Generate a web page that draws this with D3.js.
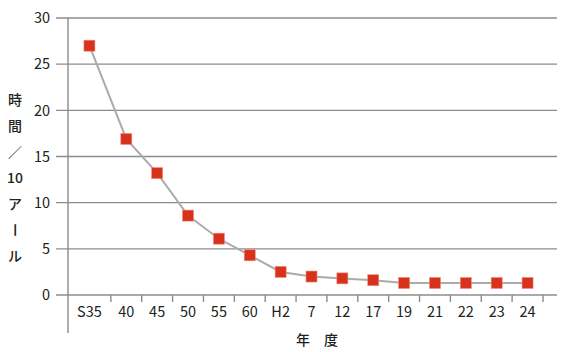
<!DOCTYPE html>
<html>
<head>
<meta charset="utf-8">
<script src="https://cdn.jsdelivr.net/npm/d3@7"></script>
<style>
  body { margin: 0; background: #fff; }
  svg text { font-family: "Noto Sans CJK JP", "Noto Sans", sans-serif; fill: #222; }
</style>
</head>
<body>
<div id="chart"></div>
<script>
const years = ["S35", "40", "45", "50", "55", "60", "H2", "7", "12", "17", "19", "21", "22", "23", "24"];
const hours = [27.0, 16.9, 13.2, 8.6, 6.1, 4.3, 2.5, 2.0, 1.8, 1.6, 1.3, 1.3, 1.3, 1.3, 1.3];
const yTicks = [0, 5, 10, 15, 20, 25, 30];
const yTitle = ["時", "間", "／", "10", "ア", "ー", "ル"];
const xTitle = "年　度";

const width = 563, height = 352;
const axisX = 68;

const svg = d3.select("#chart").append("svg")
    .attr("width", width)
    .attr("height", height);

const xScale = d3.scaleBand()
    .domain(years)
    .range([80, 543]);

const yScale = d3.scaleLinear()
    .domain([0, 30])
    .range([295, 18]);

// first band stretches back to the axis line
const cx = d => {
    const left = years.indexOf(d) === 0 ? axisX : xScale(d);
    return (left + xScale(d) + xScale.bandwidth()) / 2;
};

// gridlines
svg.append("g")
    .selectAll("line")
    .data(yTicks)
    .enter()
    .append("line")
    .attr("x1", 56)
    .attr("x2", 557)
    .attr("y1", d => yScale(d))
    .attr("y2", d => yScale(d))
    .attr("stroke", "#8c8c8c")
    .attr("stroke-width", 1.4);

// vertical axis line
svg.append("line")
    .attr("x1", axisX).attr("x2", axisX)
    .attr("y1", yScale(30)).attr("y2", 333)
    .attr("stroke", "#8c8c8c")
    .attr("stroke-width", 1.4);

// y tick labels
svg.append("g")
    .selectAll("text")
    .data(yTicks)
    .enter()
    .append("text")
    .attr("x", 50)
    .attr("y", d => yScale(d))
    .attr("dy", "0.36em")
    .attr("text-anchor", "end")
    .attr("font-size", 14.5)
    .text(d => d);

// x ticks at band boundaries
svg.append("g")
    .selectAll("line")
    .data(years)
    .enter()
    .append("line")
    .attr("x1", d => xScale(d) + xScale.bandwidth())
    .attr("x2", d => xScale(d) + xScale.bandwidth())
    .attr("y1", yScale(0))
    .attr("y2", yScale(0) + 7)
    .attr("stroke", "#8c8c8c")
    .attr("stroke-width", 1.4);

// x labels
svg.append("g")
    .selectAll("text")
    .data(years)
    .enter()
    .append("text")
    .attr("x", d => cx(d))
    .attr("y", 312)
    .attr("dy", "0.36em")
    .attr("text-anchor", "middle")
    .attr("font-size", 14.5)
    .text(d => d);

// line
const line = d3.line()
    .x((d, i) => cx(years[i]))
    .y(d => yScale(d));

svg.append("path")
    .datum(hours)
    .attr("d", line)
    .attr("fill", "none")
    .attr("stroke", "#ababab")
    .attr("stroke-width", 2);

// markers
const size = 11;
svg.append("g")
    .selectAll("rect")
    .data(hours)
    .enter()
    .append("rect")
    .attr("x", (d, i) => cx(years[i]) - size / 2)
    .attr("y", d => yScale(d) - size / 2)
    .attr("width", size)
    .attr("height", size)
    .attr("fill", "#d8321c")
    .attr("stroke", "#ec8a7c")
    .attr("stroke-width", 0.6);

// y title, stacked characters
svg.append("g")
    .selectAll("text")
    .data(yTitle)
    .enter()
    .append("text")
    .attr("x", 15)
    .attr("y", (d, i) => 100 + i * 26)
    .attr("dy", "0.36em")
    .attr("text-anchor", "middle")
    .attr("font-size", 14)
    .attr("font-weight", 500)
    .attr("transform", (d, i) => d === "ー" ? `rotate(90, 15, ${100 + i * 26})` : null)
    .text(d => d);

// x title
svg.append("text")
    .attr("x", 317)
    .attr("y", 340)
    .attr("dy", "0.36em")
    .attr("text-anchor", "middle")
    .attr("font-size", 14)
    .attr("font-weight", 500)
    .text(xTitle);
</script>
</body>
</html>
